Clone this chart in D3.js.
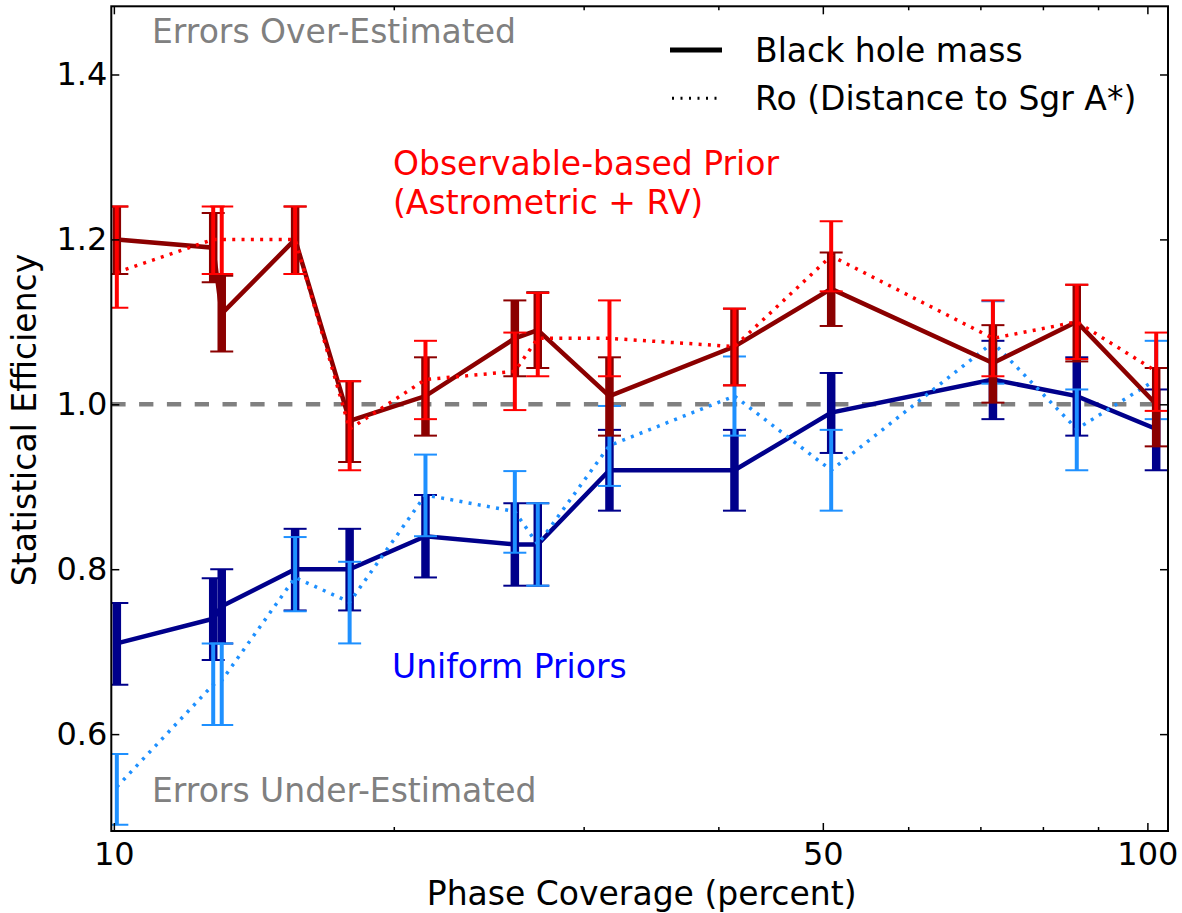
<!DOCTYPE html>
<html><head><meta charset="utf-8">
<script src="https://cdn.jsdelivr.net/npm/d3@7"></script>
<style>
body{margin:0;background:#fff}
svg{display:block}
text{font-family:"DejaVu Sans",sans-serif}
</style>
</head><body>
<svg id="chart" width="1182" height="913"></svg>
<script>
// ---------- data ----------
const coverage = [11.07, 13.6, 13.85, 16.2, 18.2, 21.4, 25.9, 27.2, 31.7, 41.4, 50.9, 71.9, 86.0, 101.9];

// Black hole mass, observable-based prior
const bhObsVal = [1.20, 1.19, 1.11, 1.20, 0.98, 1.01, 1.08, 1.09, 1.01, 1.07, 1.14, 1.05, 1.10, 1.00];
const bhObsLo  = [1.158, 1.148, 1.064, 1.158, 0.930, 0.962, 1.034, 1.044, 0.962, 1.023, 1.095, 1.002, 1.052, 0.949];
const bhObsHi  = [1.240, 1.232, 1.156, 1.240, 1.028, 1.057, 1.126, 1.136, 1.057, 1.116, 1.184, 1.096, 1.145, 1.044];

// Ro, observable-based prior
const roObsVal = [1.16, 1.20, 1.20, 1.20, 0.97, 1.03, 1.04, 1.08, 1.08, 1.07, 1.18, 1.08, 1.10, 1.04];
const roObsLo  = [1.117, 1.158, 1.158, 1.158, 0.920, 0.982, 0.993, 1.034, 1.034, 1.023, 1.137, 1.034, 1.055, 0.992];
const roObsHi  = [1.240, 1.240, 1.240, 1.240, 1.028, 1.077, 1.087, 1.135, 1.126, 1.116, 1.222, 1.126, 1.145, 1.087];

// Black hole mass, uniform priors
const bhUniVal = [0.71, 0.74, 0.755, 0.80, 0.80, 0.84, 0.83, 0.83, 0.92, 0.92, 0.99, 1.03, 1.01, 0.97];
const bhUniLo  = [0.660, 0.690, 0.710, 0.750, 0.750, 0.790, 0.780, 0.780, 0.871, 0.871, 0.941, 0.982, 0.962, 0.920];
const bhUniHi  = [0.759, 0.789, 0.800, 0.849, 0.849, 0.890, 0.880, 0.880, 0.969, 0.969, 1.038, 1.077, 1.057, 1.018];

// Ro, uniform priors
const roUniVal = [0.536, 0.66, 0.665, 0.79, 0.76, 0.89, 0.87, 0.83, 0.95, 1.01, 0.92, 1.075, 0.97, 1.03];
const roUniLo  = [0.490, 0.611, 0.611, 0.749, 0.710, 0.840, 0.820, 0.780, 0.901, 0.962, 0.871, 1.025, 0.920, 0.982];
const roUniHi  = [0.576, 0.710, 0.710, 0.839, 0.809, 0.939, 0.919, 0.880, 0.998, 1.058, 0.969, 1.125, 1.018, 1.077];

const referenceLevel = 1.0;

const xTickValues = [11, 50, 100];
const xTickLabels = ["10", "50", "100"];
const xMinorTickValues = [20, 30, 40, 60, 70, 80, 90];
const yTickValues = [0.6, 0.8, 1.0, 1.2, 1.4];
const yTickLabels = ["0.6", "0.8", "1.0", "1.2", "1.4"];

const legendLabels = ["Black hole mass", "Ro (Distance to Sgr A*)"];
const xTitle = "Phase Coverage (percent)";
const yTitle = "Statistical Efficiency";
const overText = "Errors Over-Estimated";
const underText = "Errors Under-Estimated";
const obsLabel = ["Observable-based Prior", "(Astrometric + RV)"];
const uniLabel = "Uniform Priors";

// ---------- layout ----------
const L = 111.3, R = 1168, T = 6.3, B = 831;
const FS = "33px", TICKFS = "32px";
const svg = d3.select("#chart");
const x = d3.scaleLog().domain([10.94, 104.5]).range([L, R]);
const y = d3.scaleLinear().domain([0.4825, 1.4827]).range([B, T]);

svg.append("defs").append("clipPath").attr("id", "clip")
  .append("rect").attr("x", L).attr("y", T).attr("width", R - L).attr("height", B - T);

const plot = svg.append("g").attr("clip-path", "url(#clip)");

// reference dashed line
plot.append("line")
  .attr("x1", x(x.domain()[0])).attr("x2", x(x.domain()[1]))
  .attr("y1", y(referenceLevel)).attr("y2", y(referenceLevel))
  .attr("stroke", "#808080").attr("stroke-width", 4.5)
  .attr("stroke-dasharray", "14.3,13.5");

function series(vals, lo, hi) {
  return coverage.map((c, i) => ({c, v: vals[i], lo: lo[i], hi: hi[i]}));
}
const allSeries = [
  {data: series(bhUniVal, bhUniLo, bhUniHi), color: "#00008B", dotted: false, barW: 8.5},
  {data: series(roUniVal, roUniLo, roUniHi), color: "#1E90FF", dotted: true, barW: 4},
  {data: series(bhObsVal, bhObsLo, bhObsHi), color: "#8B0000", dotted: false, barW: 8.5},
  {data: series(roObsVal, roObsLo, roObsHi), color: "#FF0000", dotted: true, barW: 4}
];

const line = d3.line().x(d => x(d.c)).y(d => y(d.v));
const capHalf = 11.5;

allSeries.forEach(s => {
  const g = plot.append("g");
  const bars = g.selectAll("g.eb").data(s.data).join("g").attr("class", "eb");
  bars.append("line")
    .attr("x1", d => x(d.c)).attr("x2", d => x(d.c))
    .attr("y1", d => y(d.lo)).attr("y2", d => y(d.hi))
    .attr("stroke", s.color).attr("stroke-width", s.barW);
  ["lo", "hi"].forEach(k => {
    bars.append("line")
      .attr("x1", d => x(d.c) - capHalf).attr("x2", d => x(d.c) + capHalf)
      .attr("y1", d => y(d[k])).attr("y2", d => y(d[k]))
      .attr("stroke", s.color).attr("stroke-width", 2);
  });
  g.append("path").datum(s.data)
    .attr("d", line).attr("fill", "none")
    .attr("stroke", s.color)
    .attr("stroke-width", s.dotted ? 3.5 : 4.5)
    .attr("stroke-dasharray", s.dotted ? "3,6.3" : null)
    .attr("stroke-linejoin", "miter");
});

// ---------- axes ----------
function styleAxis(g) {
  g.select(".domain").remove();
  g.selectAll(".tick line").attr("stroke", "#000").attr("stroke-width", 1.5);
  g.selectAll("text").attr("fill", "#000").style("font-size", TICKFS)
   .style("font-family", '"DejaVu Sans", sans-serif');
}
svg.append("g").attr("transform", `translate(0,${B})`)
  .call(d3.axisBottom(x).tickValues(xTickValues).tickSize(-8).tickPadding(11)
        .tickFormat((d, i) => xTickLabels[i]))
  .call(styleAxis);
svg.append("g").attr("transform", `translate(0,${B})`)
  .call(d3.axisBottom(x).tickValues(xMinorTickValues).tickSize(-4).tickFormat(""))
  .call(styleAxis);
svg.append("g").attr("transform", `translate(0,${T})`)
  .call(d3.axisTop(x).tickValues(xTickValues).tickSize(-8).tickFormat(""))
  .call(styleAxis);
svg.append("g").attr("transform", `translate(0,${T})`)
  .call(d3.axisTop(x).tickValues(xMinorTickValues).tickSize(-4).tickFormat(""))
  .call(styleAxis);
svg.append("g").attr("transform", `translate(${L},0)`)
  .call(d3.axisLeft(y).tickValues(yTickValues).tickSize(-8).tickPadding(4)
        .tickFormat((d, i) => yTickLabels[i]))
  .call(styleAxis);
svg.append("g").attr("transform", `translate(${R},0)`)
  .call(d3.axisRight(y).tickValues(yTickValues).tickSize(-8).tickFormat(""))
  .call(styleAxis);

svg.append("rect").attr("x", L).attr("y", T).attr("width", R - L).attr("height", B - T)
  .attr("fill", "none").attr("stroke", "#000").attr("stroke-width", 2);

// ---------- titles ----------
svg.append("text").attr("x", (L + R) / 2 + 2).attr("y", 905)
  .attr("text-anchor", "middle").style("font-size", FS).text(xTitle);
svg.append("text").attr("transform", `translate(36,420) rotate(-90)`)
  .attr("text-anchor", "middle").style("font-size", FS).text(yTitle);

// ---------- annotations ----------
svg.append("text").attr("x", 152).attr("y", 42.5).attr("fill", "#808080")
  .style("font-size", FS).text(overText);
svg.append("text").attr("x", 152).attr("y", 801.5).attr("fill", "#808080")
  .style("font-size", FS).text(underText);
svg.append("text").attr("x", 393).attr("y", 175).attr("fill", "#FF0000")
  .style("font-size", FS).text(obsLabel[0]);
svg.append("text").attr("x", 393).attr("y", 213.5).attr("fill", "#FF0000")
  .style("font-size", FS).text(obsLabel[1]);
svg.append("text").attr("x", 392).attr("y", 678).attr("fill", "#0000FF")
  .style("font-size", FS).text(uniLabel);

// ---------- legend ----------
const leg = svg.append("g");
const legY = [50, 98.3];
leg.append("line").attr("x1", 670).attr("x2", 722).attr("y1", legY[0]).attr("y2", legY[0])
  .attr("stroke", "#000").attr("stroke-width", 5);
leg.append("line").attr("x1", 672).attr("x2", 722).attr("y1", legY[1]).attr("y2", legY[1])
  .attr("stroke", "#000").attr("stroke-width", 3).attr("stroke-dasharray", "2,6.5");
legendLabels.forEach((t, i) => {
  leg.append("text").attr("x", 755).attr("y", legY[i] + 12).style("font-size", FS).text(t);
});
</script>
</body></html>
